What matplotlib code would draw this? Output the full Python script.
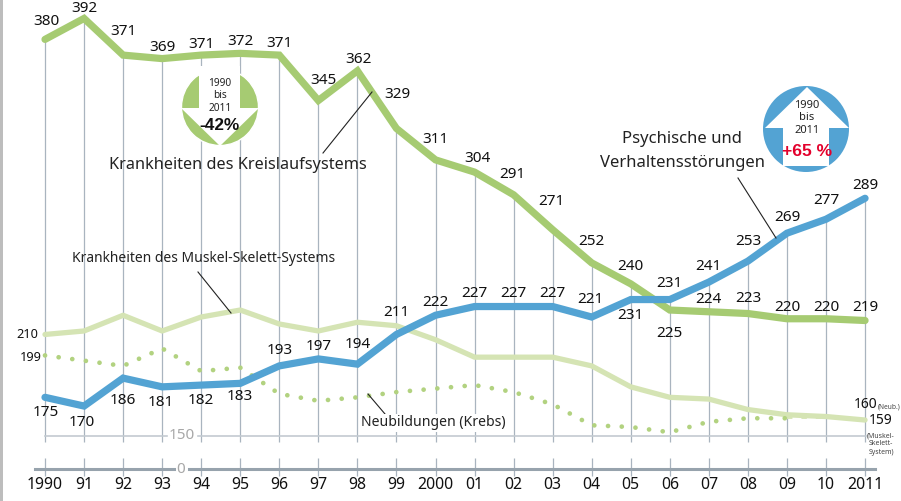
import matplotlib
matplotlib.use("Agg")
import matplotlib.pyplot as plt
from matplotlib.patches import Circle, Polygon, Rectangle
from matplotlib.transforms import Affine2D

plt.rcParams['font.family'] = ['Noto Sans', 'DejaVu Sans']

W, H = 901, 501

# data
years = ["1990", "91", "92", "93", "94", "95", "96", "97", "98", "99", "2000",
         "01", "02", "03", "04", "05", "06", "07", "08", "09", "10", "2011"]
kreislauf = [380, 392, 371, 369, 371, 372, 371, 345, 362, 329, 311,
             304, 291, 271, 252, 240, 225, 224, 223, 220, 220, 219]
psychisch = [175, 170, 186, 181, 182, 183, 193, 197, 194, 211, 222,
             227, 227, 227, 221, 231, 231, 241, 253, 269, 277, 289]
muskel = [211, 213, 222, 213, 221, 225, 217, 213, 218, 216, 208,
          198, 198, 198, 193, 181, 175, 174, 168, 165, 164, 162]
krebs = [199, 196, 193, 203, 190, 192, 177, 173, 175, 178, 180,
         182, 178, 171, 159, 158, 155, 161, 163, 163, 163, 163]

# label offsets in pixels (dx, dy), dy up
kreislauf_off = [(1, 18), (0, 10), (0, 24), (0, 11), (0, 11), (0, 12), (0, 12), (5, 20),
                 (1, 11), (1, 34), (0, 20), (3, 14), (-1, 20), (-1, 28), (0, 21), (0, 17),
                 (0, -23), (0, 12), (0, 15), (0, 11), (0, 11), (0, 13)]
psychisch_off = [(1, -15), (-2, -16), (0, -22), (-1, -16), (0, -15), (0, -13), (0, 15), (0, 12),
                 (0, 20), (0, 22), (0, 13), (0, 13), (0, 13), (0, 13), (-1, 18), (0, -16),
                 (0, 16), (0, 16), (0, 20), (0, 16), (0, 19), (0, 13)]

GREEN = "#a6cb72"
BLUE = "#53a3d3"
PALE = "#d5e4b4"
DOT = "#b2d280"
GRID = "#a9b4bf"

fig = plt.figure(figsize=(W / 100, H / 100), dpi=100)
ax = fig.add_axes([0, 0, 1, 1])
ax.set_xlim(-45 / 39.05, (W - 45) / 39.05)
ax.set_ylim(219 - (H - 320.5) / 1.746, 219 + 320.5 / 1.746)
ax.axis("off")

# pixel coordinates for the furniture, y from the top
px = Affine2D().scale(1 / W, -1 / H).translate(0, 1) + fig.transFigure
xaxis_px = ax.get_xaxis_transform()


def ax_y(y):
    return 1 - y / H


x = list(range(len(years)))
top = [max(a, b) for a, b in zip(kreislauf, psychisch)]

ax.add_patch(Rectangle((0, 0), 2.5, H, transform=px, color="#bdbdbd", lw=0))

# gridlines with the axis break
ax.vlines(x, [ax.get_ylim()[0] + (H - 442) / 1.746] * len(x), top, color=GRID, lw=0.9, zorder=1)
ax.vlines(x, ax_y(476), ax_y(458), color=GRID, lw=0.9, zorder=1, transform=xaxis_px)

# broken axis
ax.plot([45, 167], [436, 436], transform=px, color="#c3cad1", lw=1.2, zorder=1)
ax.plot([198, 866], [436, 436], transform=px, color="#c3cad1", lw=1.2, zorder=1)
ax.text(182, 436, "150", transform=px, ha="center", va="center", fontsize=11, color="#a8a8a8")
ax.plot([35, 174], [469, 469], transform=px, color="#97a3ad", lw=2.2, zorder=2)
ax.plot([189, 875], [469, 469], transform=px, color="#97a3ad", lw=2.2, zorder=2)
ax.text(181, 470, "0", transform=px, ha="center", va="center", fontsize=11, color="#a8a8a8")

# series
ax.plot(x, muskel, color=PALE, lw=3.8, solid_capstyle="round", solid_joinstyle="round", zorder=3)
ax.plot(x[:20], krebs[:20], color=DOT, lw=3.4, linestyle=(0, (0.01, 2.9)),
        dash_capstyle="round", zorder=3)
ax.plot(x[19:21], krebs[19:21], color=PALE, lw=1.3, linestyle=(0, (3, 5)), zorder=3)
ax.plot(x, kreislauf, color=GREEN, lw=5.2, solid_capstyle="round", solid_joinstyle="miter", zorder=4)
ax.plot(x, psychisch, color=BLUE, lw=5.2, solid_capstyle="round", solid_joinstyle="miter", zorder=5)

# value labels
for i in x:
    ax.annotate(str(kreislauf[i]), (i, kreislauf[i]),
                xytext=(kreislauf_off[i][0] * 0.72, kreislauf_off[i][1] * 0.72),
                textcoords="offset points", ha="center", va="center", fontsize=11, color="#111111", zorder=7)
    ax.annotate(str(psychisch[i]), (i, psychisch[i]),
                xytext=(psychisch_off[i][0] * 0.72, psychisch_off[i][1] * 0.72),
                textcoords="offset points", ha="center", va="center", fontsize=11, color="#111111", zorder=7)

ax.annotate("210", (0, muskel[0]), xytext=(-18 * 0.72, 0), textcoords="offset points",
            ha="center", va="center", fontsize=9.2, color="#111111")
ax.annotate("199", (0, krebs[0]), xytext=(-14 * 0.72, -2 * 0.72), textcoords="offset points",
            ha="center", va="center", fontsize=9.2, color="#111111")

# year labels
for i in x:
    ax.text(i, ax_y(485), years[i], transform=xaxis_px, ha="center", va="center",
            fontsize=11.4, color="#111111")

# end labels
ax.text(866, 405, "160", transform=px, ha="center", va="center", fontsize=10, color="#111111", zorder=7)
ax.text(878, 407, "(Neub.)", transform=px, ha="left", va="center", fontsize=4.8, color="#444444", zorder=7)
ax.text(881, 421, "159", transform=px, ha="center", va="center", fontsize=10, color="#111111", zorder=7)
ax.text(881, 444, "(Muskel-\nSkelett-\nSystem)", transform=px, ha="center", va="center",
        fontsize=5, color="#444444", linespacing=1.25, zorder=7)

# series names and leaders
ax.text(238, 165, "Krankheiten des Kreislaufsystems", transform=px, ha="center", va="center",
        fontsize=11.7, color="#222222", zorder=8)
ax.plot([323, 372], [153, 92], transform=px, color="#222222", lw=0.8, zorder=6)
ax.text(682, 139, "Psychische und", transform=px, ha="center", va="center", fontsize=12, color="#222222", zorder=8)
ax.text(682, 163, "Verhaltensstörungen", transform=px, ha="center", va="center", fontsize=12, color="#222222", zorder=8)
ax.plot([738, 776], [178, 238], transform=px, color="#222222", lw=0.8, zorder=6)
ax.text(204, 259, "Krankheiten des Muskel-Skelett-Systems", transform=px, ha="center", va="center",
        fontsize=10, color="#222222", zorder=8)
ax.plot([198, 231], [272, 313], transform=px, color="#222222", lw=0.8, zorder=6)
ax.text(433, 423, "Neubildungen (Krebs)", transform=px, ha="center", va="center",
        fontsize=10.1, color="#222222", zorder=8,
        bbox=dict(facecolor="white", edgecolor="none", pad=1))
ax.plot([368, 385], [394, 414], transform=px, color="#222222", lw=0.8, zorder=6)

# down arrow badge
ax.add_patch(Circle((220, 107), 38.5, transform=px, facecolor=GREEN, edgecolor="white", lw=1, zorder=8))
ax.add_patch(Polygon([(199, 66), (240, 66), (240, 108), (259, 108), (220, 146), (181, 108), (199, 108)],
                     transform=px, facecolor="white", edgecolor="none", zorder=9))
ax.text(220, 96, "1990\nbis\n2011", transform=px, ha="center", va="center", fontsize=7.3,
        color="#222222", linespacing=1.15, zorder=10)
ax.text(220, 125, "-42%", transform=px, ha="center", va="center", fontsize=12.4, fontweight="bold",
        family="Liberation Sans", color="#111111", zorder=10)

# up arrow badge
ax.add_patch(Circle((806, 129), 43, transform=px, facecolor=BLUE, edgecolor="none", zorder=8))
ax.add_patch(Polygon([(807, 87), (849, 128), (829, 128), (829, 166), (783, 166), (783, 128), (765, 128)],
                     transform=px, facecolor="white", edgecolor="none", zorder=9))
ax.text(807, 118, "1990\nbis\n2011", transform=px, ha="center", va="center", fontsize=8,
        color="#222222", linespacing=1.2, zorder=10)
ax.text(807, 152, "+65 %", transform=px, ha="center", va="center", fontsize=12.6, fontweight="bold",
        family="Liberation Sans", color="#e3002c", zorder=10)

fig.savefig("out.png", dpi=100)
